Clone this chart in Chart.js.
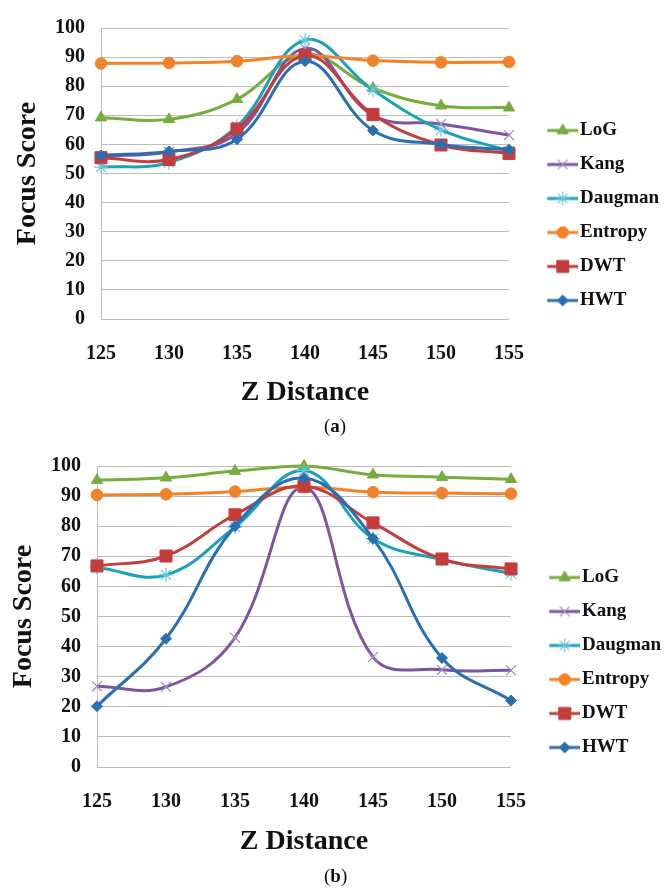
<!DOCTYPE html>
<html>
<head>
<meta charset="utf-8">
<script src="https://cdn.jsdelivr.net/npm/chart.js@4.4.1/dist/chart.umd.min.js"></script>
<style>
  html, body { margin: 0; padding: 0; background: #fff; }
  #wrap { position: relative; width: 664px; height: 889px; overflow: hidden; }
  canvas { position: absolute; left: 0; }
  #cA { top: 0; }
  #cB { top: 432px; }
  .cap { position: absolute; font-family: "Liberation Serif", serif; font-size: 19px; color: #111; }
  .cap b { font-weight: bold; }
</style>
</head>
<body>
<div id="wrap">
  <canvas id="cA" width="664" height="432"></canvas>
  <canvas id="cB" width="664" height="457"></canvas>
  <div class="cap" style="left:324px; top:415px;">(<b>a</b>)</div>
  <div class="cap" style="left:324px; top:865px;">(<b>b</b>)</div>
</div>
<script>
// Z distance positions along the horizontal axis
const zDistance = ['125', '130', '135', '140', '145', '150', '155'];
const seriesNames = ['LoG', 'Kang', 'Daugman', 'Entropy', 'DWT', 'HWT'];

// Panel (a) focus scores
const logA     = [69.2, 68.6, 75.5, 91.0, 79.3, 73.3, 72.6];
const kangA    = [56.0, 57.4, 63.8, 93.0, 70.0, 67.0, 63.2];
const daugmanA = [52.2, 53.8, 66.2, 95.8, 78.7, 65.0, 57.8];
const entropyA = [87.8, 88.0, 88.6, 90.5, 88.8, 88.2, 88.3];
const dwtA     = [55.4, 54.8, 65.3, 90.5, 70.3, 59.8, 56.9];
const hwtA     = [56.2, 57.6, 61.8, 88.6, 64.8, 60.0, 58.2];

// Panel (b) focus scores
const logB     = [95.3, 96.1, 98.3, 100.0, 97.1, 96.3, 95.6];
const kangB    = [26.8, 26.6, 43.0, 93.0, 36.5, 32.3, 32.1];
const daugmanB = [66.3, 63.8, 79.7, 98.5, 75.9, 68.9, 64.3];
const entropyB = [90.4, 90.6, 91.5, 93.0, 91.3, 91.0, 90.8];
const dwtB     = [66.8, 70.1, 83.8, 93.3, 81.1, 69.1, 65.8];
const hwtB     = [20.2, 42.6, 80.0, 96.0, 75.9, 36.2, 22.1];

const looks = {
  LoG:     { line: '#77AC3E', mark: '#77AC3E', style: 'triangle', r: 6.5, bw: 1 },
  Kang:    { line: '#7D55A2', mark: '#A08BC6', style: 'crossRot', r: 7,   bw: 1.2 },
  Daugman: { line: '#1AA1BC', mark: '#6CC7DA', style: 'star',     r: 7,   bw: 1.2 },
  Entropy: { line: '#F2832A', mark: '#F2832A', style: 'circle',   r: 5.8, bw: 1 },
  DWT:     { line: '#C43D3D', mark: '#C43D3D', style: 'rect',     r: 8.5, bw: 1 },
  HWT:     { line: '#2B6FB3', mark: '#2B6FB3', style: 'rectRot',  r: 5.5, bw: 1 }
};

const serif = "'Liberation Serif', 'Times New Roman', serif";

// Legend swatch: a short line with the series marker; the left half is blank
// so the drawn part sits to the right of the legend box centre.
function legendIcon(name) {
  const lk = looks[name];
  const c = document.createElement('canvas');
  c.width = 62; c.height = 20;
  const ctx = c.getContext('2d');
  ctx.strokeStyle = lk.line;
  ctx.lineWidth = 3;
  ctx.beginPath();
  ctx.moveTo(31, 10); ctx.lineTo(62, 10);
  ctx.stroke();
  ctx.fillStyle = lk.mark;
  ctx.strokeStyle = lk.mark;
  ctx.lineWidth = lk.bw;
  Chart.helpers.drawPoint(ctx, { pointStyle: lk.style, rotation: 0, radius: lk.r, borderWidth: lk.bw }, 46.5, 10);
  return c;
}
const icons = {};
seriesNames.forEach(n => { icons[n] = legendIcon(n); });

function makeChart(id, values, g) {
  // later series are drawn underneath earlier ones, so list them in reverse
  const order = seriesNames.slice().reverse();
  const datasets = order.map(name => {
    const lk = looks[name];
    return {
      label: name,
      data: values[name],
      borderColor: lk.line,
      backgroundColor: lk.mark,
      borderWidth: 3,
      tension: 0.4,
      pointStyle: lk.style,
      pointRadius: lk.r,
      pointHoverRadius: lk.r,
      pointBackgroundColor: lk.mark,
      pointBorderColor: lk.mark,
      pointBorderWidth: lk.bw,
      clip: false
    };
  });
  return new Chart(document.getElementById(id), {
    type: 'line',
    data: { labels: zDistance, datasets },
    options: {
      responsive: false,
      animation: false,
      devicePixelRatio: 1,
      layout: { padding: { top: g.padTop, bottom: g.padBottom, left: 0, right: 0 } },
      plugins: {
        tooltip: { enabled: false },
        legend: {
          position: 'right',
          reverse: true,
          maxWidth: g.legendWidth,
          labels: {
            usePointStyle: true,
            pointStyleWidth: 46.5,
            padding: 15,
            color: '#111',
            font: { family: serif, size: 19, weight: 'bold' },
            generateLabels(chart) {
              const items = Chart.defaults.plugins.legend.labels.generateLabels(chart);
              items.forEach(it => { it.pointStyle = icons[it.text]; });
              return items;
            }
          }
        }
      },
      scales: {
        x: {
          offset: false,
          grid: { display: false, drawTicks: false },
          border: { display: false },
          ticks: { color: '#111', padding: 23, maxRotation: 0, font: { family: serif, size: 20, weight: 'bold' } },
          title: { display: true, text: 'Z Distance', color: '#111', padding: { top: 0, bottom: 0 },
                   font: { family: serif, size: 28, weight: 'bold' } },
          afterFit(scale) { scale.height = g.xHeight; }
        },
        y: {
          min: 0, max: 100,
          grid: { color: '#BDBDBD', lineWidth: 1, drawTicks: false },
          border: { display: true, color: '#BDBDBD', width: 1 },
          ticks: { stepSize: 10, color: '#111', padding: 16, font: { family: serif, size: 20, weight: 'bold' } },
          title: { display: true, text: 'Focus Score', color: '#111', padding: { top: g.yTitlePad, bottom: 0 },
                   font: { family: serif, size: 28, weight: 'bold' } },
          afterFit(scale) { scale.width = g.yWidth; }
        }
      }
    }
  });
}

makeChart('cA', {
  LoG: logA, Kang: kangA, Daugman: daugmanA, Entropy: entropyA, DWT: dwtA, HWT: hwtA
}, { padTop: 21, padBottom: 22, xHeight: 91, yWidth: 101, legendWidth: 155, yTitlePad: 11 });

makeChart('cB', {
  LoG: logB, Kang: kangB, Daugman: daugmanB, Entropy: entropyB, DWT: dwtB, HWT: hwtB
}, { padTop: 34, padBottom: 30, xHeight: 92, yWidth: 97, legendWidth: 153, yTitlePad: 7 });
</script>
</body>
</html>
